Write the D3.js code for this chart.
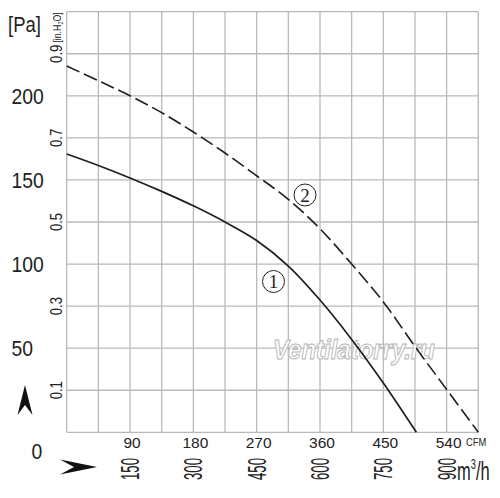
<!DOCTYPE html>
<html>
<head>
<meta charset="utf-8">
<script src="https://cdn.jsdelivr.net/npm/d3@7"></script>
<style>
  body { margin: 0; background: #fff; }
  svg { display: block; }
</style>
</head>
<body>
<div id="chart"></div>
<script>
// airflow (CFM) / static pressure (Pa)
var cfm1 = [0, 45, 90, 135, 180, 225, 270, 315, 360, 405, 450, 497];
var pa1 = [165.4, 158.6, 151.2, 143.2, 134.6, 125, 114, 98.8, 78.6, 55.2, 29.3, 0];
var cfm2 = [0, 45, 90, 135, 180, 225, 270, 315, 360, 405, 450, 495, 540, 585];
var pa2 = [217.7, 209, 200, 190, 178.5, 166, 152.5, 138.5, 121, 100, 77.5, 51, 25.5, 0];

var paTicks = [50, 100, 150, 200];
var inchTicks = [0.1, 0.3, 0.5, 0.7, 0.9];
var cfmTicks = [90, 180, 270, 360, 450, 540];
var m3hTicks = [150, 300, 450, 600, 750, 900];

var width = 500, height = 498;
var margin = { top: 11.7, right: 21.7, bottom: 65.7, left: 66.7 };

var svg = d3.select("#chart")
  .append("svg")
  .attr("width", width)
  .attr("height", height);

var x = d3.scaleLinear()
  .domain([0, 585])
  .range([margin.left, width - margin.right]);
var y = d3.scaleLinear()
  .domain([0, 250])
  .range([height - margin.bottom, margin.top]);
// secondary scales, share the same pixels
var yIn = d3.scaleLinear().domain([0, 1]).range(y.range());
var xM3h = d3.scaleLinear().domain([0, 975]).range(x.range());

// grid
var grid = svg.append("g")
  .attr("stroke", "#b9b9b9")
  .attr("stroke-width", 1.3)
  .attr("fill", "none");

grid.selectAll("line.v")
  .data(d3.range(0, 586, 45))
  .enter()
  .append("line")
  .attr("x1", function (d) { return x(d); })
  .attr("x2", function (d) { return x(d); })
  .attr("y1", y(0))
  .attr("y2", y(250));

grid.selectAll("line.h")
  .data(d3.range(0, 251, 25))
  .enter()
  .append("line")
  .attr("y1", function (d) { return y(d); })
  .attr("y2", function (d) { return y(d); })
  .attr("x1", x(0))
  .attr("x2", x(585));

// watermark
svg.append("text")
  .attr("x", 273)
  .attr("y", 359)
  .attr("textLength", 162)
  .attr("lengthAdjust", "spacingAndGlyphs")
  .style("font-family", "Liberation Sans, sans-serif")
  .style("font-size", "28px")
  .style("font-weight", "bold")
  .style("font-style", "italic")
  .attr("fill", "#fff")
  .attr("stroke", "#b4b4b4")
  .attr("stroke-width", 1)
  .text("Ventilatorry.ru");

// curves
var line = d3.line()
  .x(function (d) { return x(d[0]); })
  .y(function (d) { return y(d[1]); })
  .curve(d3.curveCatmullRom.alpha(0.5));

svg.append("path")
  .datum(d3.zip(cfm1, pa1))
  .attr("d", line)
  .attr("fill", "none")
  .attr("stroke", "#1e1e1e")
  .attr("stroke-width", 1.7);

svg.append("path")
  .datum(d3.zip(cfm2, pa2))
  .attr("d", line)
  .attr("fill", "none")
  .attr("stroke", "#1e1e1e")
  .attr("stroke-width", 1.6)
  .attr("stroke-dasharray", "14,5");

// curve numbers
var tags = [
  { n: "1", cx: 273.5, cy: 281.5 },
  { n: "2", cx: 305, cy: 195 }
];
var tag = svg.selectAll("g.tag")
  .data(tags)
  .enter()
  .append("g")
  .attr("transform", function (d) { return "translate(" + d.cx + "," + d.cy + ")"; });
tag.append("circle")
  .attr("r", 11)
  .attr("fill", "#fff")
  .attr("stroke", "#222")
  .attr("stroke-width", 1);
tag.append("text")
  .attr("text-anchor", "middle")
  .attr("y", 6.5)
  .style("font-family", "Liberation Serif, serif")
  .style("font-size", "19px")
  .attr("fill", "#222")
  .text(function (d) { return d.n; });

// left labels, Pa
svg.selectAll("text.pa")
  .data(paTicks)
  .enter()
  .append("text")
  .attr("transform", function (d) { return "translate(11.5," + (y(d) + 8) + ") scale(0.88,1)"; })
  .style("font-family", "Liberation Sans, sans-serif")
  .style("font-size", "22px")
  .attr("fill", "#222")
  .text(function (d) { return d; });

svg.append("text")
  .attr("transform", "translate(31.5," + (y(0) + 27) + ") scale(0.88,1)")
  .style("font-family", "Liberation Sans, sans-serif")
  .style("font-size", "22px")
  .attr("fill", "#222")
  .text("0");

svg.append("text")
  .attr("transform", "translate(8,32) scale(0.84,1)")
  .style("font-family", "Liberation Sans, sans-serif")
  .style("font-size", "22px")
  .attr("fill", "#222")
  .text("[Pa]");

// in. H2O labels, rotated
svg.selectAll("text.inch")
  .data(inchTicks)
  .enter()
  .append("text")
  .attr("transform", function (d) { return "translate(61.5," + yIn(d) + ") rotate(-90) scale(0.82,1)"; })
  .attr("text-anchor", "middle")
  .style("font-family", "Liberation Sans, sans-serif")
  .style("font-size", "16px")
  .attr("fill", "#222")
  .text(function (d) { return d; });

var unitIn = svg.append("text")
  .attr("transform", "translate(61," + (margin.top + 0.5) + ") rotate(-90) scale(0.8,1)")
  .attr("text-anchor", "end")
  .style("font-family", "Liberation Sans, sans-serif")
  .style("font-size", "11px")
  .attr("fill", "#222");
unitIn.append("tspan").text("[in.H");
unitIn.append("tspan").attr("font-size", "7px").attr("dy", 2).text("2");
unitIn.append("tspan").attr("dy", -2).text("O]");

// bottom labels, CFM
svg.selectAll("text.cfm")
  .data(cfmTicks)
  .enter()
  .append("text")
  .attr("x", function (d) { return x(d) + 2; })
  .attr("y", 448)
  .attr("text-anchor", "middle")
  .style("font-family", "Liberation Sans, sans-serif")
  .style("font-size", "15.5px")
  .attr("fill", "#222")
  .text(function (d) { return d; });

svg.append("text")
  .attr("transform", "translate(466,446) scale(0.85,1)")
  .style("font-family", "Liberation Sans, sans-serif")
  .style("font-size", "11px")
  .attr("fill", "#222")
  .text("CFM");

// m3/h labels, rotated
svg.selectAll("text.m3h")
  .data(m3hTicks)
  .enter()
  .append("text")
  .attr("transform", function (d) { return "translate(" + (xM3h(d) + 9) + ",469) rotate(-90)"; })
  .attr("text-anchor", "middle")
  .attr("textLength", 22)
  .attr("lengthAdjust", "spacingAndGlyphs")
  .style("font-family", "Liberation Sans, sans-serif")
  .style("font-size", "25px")
  .attr("fill", "#222")
  .text(function (d) { return d; });

var unitM = svg.append("text")
  .attr("transform", "translate(457,480) scale(0.66,1)")
  .style("font-family", "Liberation Sans, sans-serif")
  .style("font-size", "25px")
  .attr("fill", "#222");
unitM.append("tspan").text("m");
unitM.append("tspan").attr("font-size", "14px").attr("dy", -11).text("3");
unitM.append("tspan").attr("dy", 11).text("/h");

// axis arrows
svg.append("path")
  .attr("d", "M25,385 L32.5,415 L25,405 L17.5,415 Z")
  .attr("fill", "#111");
svg.append("path")
  .attr("d", "M97,467 L60,474.5 L74,467 L60,459.5 Z")
  .attr("fill", "#111");
</script>
</body>
</html>
